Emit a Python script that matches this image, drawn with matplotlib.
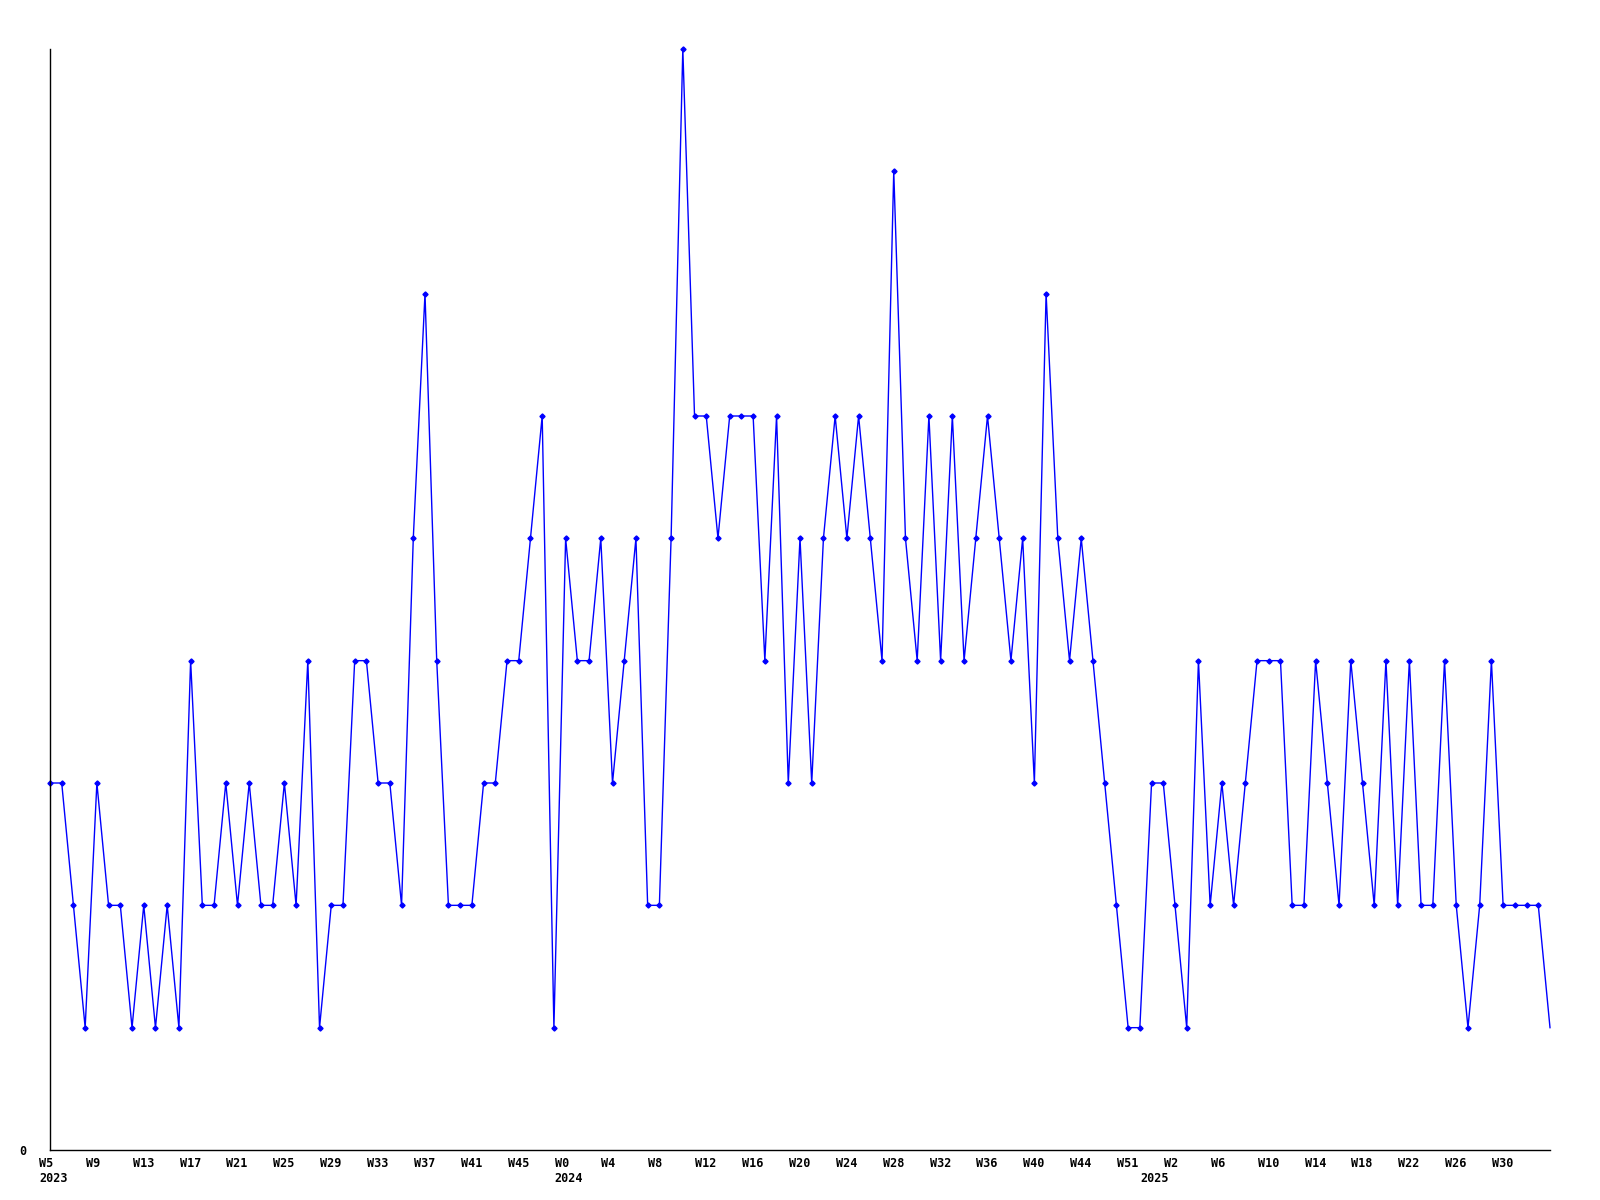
import matplotlib
matplotlib.use("Agg")
import matplotlib.pyplot as plt

# weekly counts, one value per week (first = W5 2023)
counts = [3, 3, 2, 1, 3, 2, 2, 1, 2, 1, 2, 1, 4, 2, 2, 3, 2, 3, 2, 2,
          3, 2, 4, 1, 2, 2, 4, 4, 3, 3, 2, 5, 7, 4, 2, 2, 2, 3, 3, 4,
          4, 5, 6, 1, 5, 4, 4, 5, 3, 4, 5, 2, 2, 5, 9, 6, 6, 5, 6, 6,
          6, 4, 6, 3, 5, 3, 5, 6, 5, 6, 5, 4, 8, 5, 4, 6, 4, 6, 4, 5,
          6, 5, 4, 5, 3, 7, 5, 4, 5, 4, 3, 2, 1, 1, 3, 3, 2, 1, 4, 2,
          3, 2, 3, 4, 4, 4, 2, 2, 4, 3, 2, 4, 3, 2, 4, 2, 4, 2, 2, 4,
          2, 1, 2, 4, 2, 2, 2, 2, 1]

week_labels = ["W5", "W9", "W13", "W17", "W21", "W25", "W29", "W33", "W37",
               "W41", "W45", "W0", "W4", "W8", "W12", "W16", "W20", "W24",
               "W28", "W32", "W36", "W40", "W44", "W51", "W2", "W6", "W10",
               "W14", "W18", "W22", "W26", "W30"]

years = ["2023", "2024", "2025"]
year_start = [0, 44, 94]   # index of first week of each year

x = list(range(len(counts)))

fig = plt.figure(figsize=(16, 12), dpi=100)
ax = fig.add_axes([50/1600, 1 - 1150/1200, 1500/1600, 1101/1200])

ax.plot(x, counts, color="#0000ff", linewidth=1.0, marker="D", markersize=2.6,
        markevery=list(range(len(counts) - 1)), clip_on=False)

ax.set_xlim(0, len(counts) - 1)
ax.set_ylim(0, max(counts))

for s in ["top", "right"]:
    ax.spines[s].set_visible(False)
for s in ["left", "bottom"]:
    ax.spines[s].set_linewidth(1.0)
    ax.spines[s].set_color("black")

font = dict(family="DejaVu Sans Mono", fontweight="bold", fontsize=8.5)

ax.set_yticks([0])
ax.set_yticklabels(["0"], **font)
ax.tick_params(axis="y", length=0, pad=17)
ax.set_xticks([])

ticks = x[::4]
for t, lab in zip(ticks, week_labels):
    ax.annotate(lab, xy=(t, 0), xycoords=("data", "axes fraction"),
                xytext=(-8, -5), textcoords="offset points",
                ha="left", va="top", **font)

for yr, t in zip(years, year_start):
    ax.annotate(yr, xy=(t, 0), xycoords=("data", "axes fraction"),
                xytext=(-8, -16), textcoords="offset points",
                ha="left", va="top", **font)

fig.savefig("out.png", dpi=100)
